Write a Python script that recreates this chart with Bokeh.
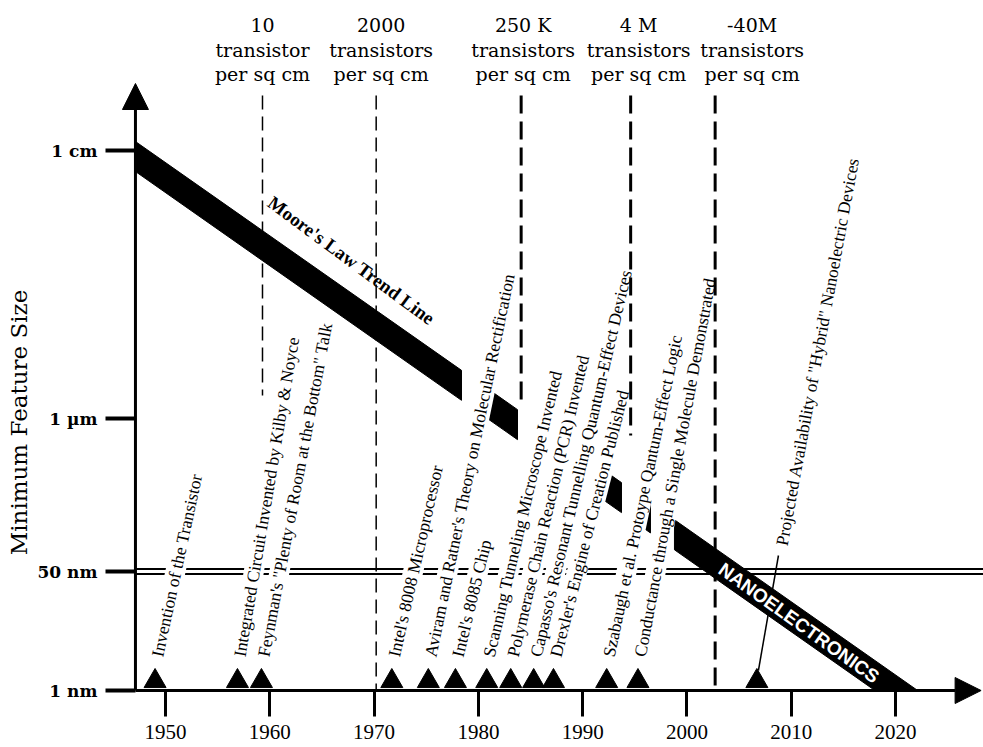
import numpy as np
from bokeh.plotting import figure
from bokeh.models import ColumnDataSource, FixedTicker, Range1d, Arrow, NormalHead
from bokeh.core.properties import value
from bokeh.embed import file_html
from bokeh.resources import INLINE

# ---------------- data ----------------
year_ticks = [1950, 1960, 1970, 1980, 1990, 2000, 2010, 2020]
size_labels = ["1 nm", "50 nm", "1 \u00b5m", "1 cm"]
size_pos = [0.0, 1.19, 2.72, 5.40]          # schematic position of each size level

# Moore's law trend line (year, size position)
trend_years = [1947.12, 2020.07]
trend_pos = [5.34, 0.0]
band_seg_start = [1947.12, 1980.97, 1991.9, 1995.8, 1998.8]
band_seg_end = [1978.38, 1983.75, 1993.72, 1996.5, 2022.2]

# transistor density milestones
density_years = [1959.3, 1970.2, 1984.1, 1994.6, 2002.7]
density_counts = ["10", "2000", "250 K", "4 M", "-40M"]
density_units = ["transistor", "transistors", "transistors", "transistors", "transistors"]
density_line_low = [2.95, 0.0, 2.85, 2.55, 0.0]

# events
event_years = [1949.0, 1956.9, 1959.2, 1971.7, 1975.2, 1977.8, 1980.8,
               1983.1, 1985.3, 1987.2, 1992.3, 1995.3, 2006.7]
event_labels = [
    "Invention of the Transistor",
    "Integrated Circuit Invented by Kilby & Noyce",
    "Feynman's \"Plenty of Room at the Bottom\" Talk",
    "Intel's 8008 Microprocessor",
    "Aviram and Ratner's Theory on Molecular Rectification",
    "Intel's 8085 Chip",
    "Scanning Tunneling Microscope Invented",
    "Polymerase Chain Reaction (PCR) Invented",
    "Capasso's Resonant Tunnelling Quantum-Effect Devices",
    "Drexler's Engine of Creation Published",
    "Szabaugh et al. Protoype Qantum-Effect Logic",
    "Conductance through a Single Molecule Demonstrated",
    "Projected Availability of \"Hybrid\" Nanoelectric Devices",
]
# projected event: leader line end (year, position)
leader_top = (2008.77, 1.35)

# ---------------- styles ----------------
label_angles = [77.8, 80.4, 79.3, 77.2, 78.4, 76.3, 76.7, 76.8, 76.8, 75.7, 78.1, 79.5, 79.5]
label_base = 0.34
serif = "Liberation Serif"

X0, X1 = 1934.18, 2028.43
Y0, Y1 = -0.57, 6.90
AXIS_X = 1947.12
ARROW_X = 2028.2

p = figure(width=983, height=747, output_backend="svg", toolbar_location=None,
           x_range=Range1d(X0, X1), y_range=Range1d(Y0, Y1),
           min_border_left=0, min_border_right=0, min_border_top=0, min_border_bottom=0)
p.outline_line_color = None
p.grid.visible = False
p.background_fill_color = "white"

# x axis (placed at the 1 nm level)
p.xaxis.fixed_location = 0.0
p.xaxis.ticker = FixedTicker(ticks=year_ticks)
p.xaxis.axis_line_color = None
p.xaxis.major_tick_out = 26
p.xaxis.major_tick_in = 0
p.xaxis.major_tick_line_width = 3
p.xaxis.minor_tick_line_color = None
p.xaxis.major_label_standoff = 8
p.xaxis.major_label_text_font = serif
p.xaxis.major_label_text_font_size = "21px"
p.xaxis.major_label_text_color = "black"

# y axis (placed at the start year)
p.yaxis.fixed_location = AXIS_X
p.yaxis.ticker = FixedTicker(ticks=size_pos)
p.yaxis.major_label_overrides = {v: t for v, t in zip(size_pos, size_labels)}
p.yaxis.axis_line_color = None
p.yaxis.major_tick_out = 30
p.yaxis.major_tick_in = 0
p.yaxis.major_tick_line_width = 4
p.yaxis.minor_tick_line_color = None
p.yaxis.major_label_standoff = 8
p.yaxis.major_label_text_font = "DejaVu Serif"
p.yaxis.major_label_text_font_style = "bold"
p.yaxis.major_label_text_font_size = "17px"
p.yaxis.major_label_text_color = "black"

p.text(x=[1936.0], y=[2.68], text=["Minimum Feature Size"], angle=90, angle_units="deg",
       text_font=value("DejaVu Serif"), text_font_size="23px", text_align="center",
       text_baseline="middle", text_color="black")

# 50 nm double line
for off in (0.025, -0.025):
    p.segment(x0=[AXIS_X], y0=[size_pos[1] + off], x1=[X1], y1=[size_pos[1] + off],
              line_color="black", line_width=2)

# Moore's law band (clipped at the 1 nm axis)
slope = (trend_pos[1] - trend_pos[0]) / (trend_years[1] - trend_years[0])
def trend(x):
    return trend_pos[0] + slope * (x - trend_years[0])
def zero_cross(off):
    return trend_years[0] + (-off - trend_pos[0]) / slope
h = 0.15
bxs, bys = [], []
for a, b in zip(band_seg_start, band_seg_end):
    xt = min(b, zero_cross(h))
    xb = min(b, zero_cross(-h))
    bxs.append([a, xt, xb, a])
    bys.append([trend(a) + h, max(trend(xt) + h, 0.0), max(trend(xb) - h, 0.0), trend(a) - h])
p.patches(bxs, bys, fill_color="black", line_color="black", line_width=1)

# label sources
lx = list(event_years[:-1]) + [leader_top[0] + 0.1]
ly = [label_base] * (len(event_years) - 1) + [leader_top[1] + 0.1]
lab_src = ColumnDataSource(dict(x=lx, y=ly, text=event_labels, angle=label_angles))

# white boxes behind the event labels
p.text(x="x", y="y", text="text", angle="angle", angle_units="deg", source=lab_src,
       text_font=value(serif), text_font_size="17.5px", text_align="left",
       text_baseline="middle", text_color="white", x_offset=2,
       background_fill_color="white", background_fill_alpha=1.0, border_line_color=None)

# dashed density lines
for yr, low, w in zip(density_years, density_line_low, [1.5, 1.5, 3, 3, 3]):
    p.segment(x0=[yr], y0=[5.95], x1=[yr], y1=[low], line_color="black",
              line_width=w, line_dash="14 7" if w < 2 else "18 8")

# event labels
p.text(x="x", y="y", text="text", angle="angle", angle_units="deg", source=lab_src,
       text_font=value(serif), text_font_size="17.5px", text_align="left",
       text_baseline="middle", text_color="black", x_offset=2)

# event markers
p.scatter(x=event_years, y=[0.093] * len(event_years), marker="triangle", size=22,
          fill_color="black", line_color="black")
# leader of projected event
p.segment(x0=[event_years[-1] + 0.15], y0=[0.2], x1=[leader_top[0]], y1=[leader_top[1]],
          line_color="black", line_width=1.5)

# density labels at top
dx, dy, dt, do = [], [], [], []
offs = [0, 5, 2, 8, 37]
for yr, c, u, o in zip(density_years, density_counts, density_units, offs):
    for row, t in zip([6.66, 6.41, 6.17], [c, u, "per sq cm"]):
        dx.append(yr); dy.append(row); dt.append(t); do.append(o)
p.text(x=dx, y=dy, text=dt, x_offset=do, text_font=value("DejaVu Serif"),
       text_font_size="19px", text_align="center", text_baseline="alphabetic",
       text_color="black")

# band annotations
p.text(x=[1967.83], y=[4.30], text=["Moore's Law Trend Line"], angle=-36.5,
       angle_units="deg", text_font=value(serif), text_font_style="bold",
       text_font_size="19px", text_align="center", text_baseline="middle",
       text_color="black")
p.text(x=[2010.74], y=[0.675], text=["NANOELECTRONICS"], angle=-35.5,
       angle_units="deg", text_font=value("Liberation Sans"), text_font_style="bold",
       text_font_size="19px", text_align="center", text_baseline="middle",
       text_color="white")

# axis lines with arrow heads
p.add_layout(Arrow(x_start=AXIS_X, y_start=0, x_end=AXIS_X, y_end=6.07, line_width=3,
                   line_color="black",
                   end=NormalHead(size=26, fill_color="black", line_color="black")))
p.add_layout(Arrow(x_start=AXIS_X, y_start=0, x_end=ARROW_X, y_end=0, line_width=3,
                   line_color="black",
                   end=NormalHead(size=26, fill_color="black", line_color="black")))

open("out.html", "w").write(file_html(p, INLINE))
